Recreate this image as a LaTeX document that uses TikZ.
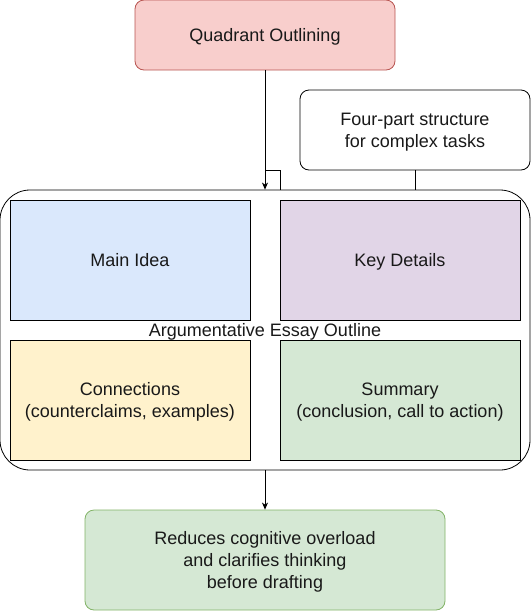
\documentclass[tikz,border=0pt]{standalone}
\usepackage{fontspec}
\setmainfont{Liberation Sans}
\usetikzlibrary{arrows.meta}
\definecolor{redfill}{HTML}{F8CECC}
\definecolor{redline}{HTML}{B85450}
\definecolor{bluefill}{HTML}{DAE8FC}
\definecolor{purplefill}{HTML}{E1D5E7}
\definecolor{yellowfill}{HTML}{FFF2CC}
\definecolor{greenfill}{HTML}{D5E8D4}
\definecolor{greenline}{HTML}{82B366}
\newcommand\lst{\rule[-4.3pt]{0pt}{21.6pt}}
\tikzset{
  txt/.style={font=\fontsize{18}{21.6}\selectfont, text=black!90},
  base/.style={draw, line width=0.8pt, align=center, inner sep=0pt, txt},
  roundbox/.style={base, rounded corners=9pt},
  quad/.style={base, draw=black},
  conn/.style={line width=0.8pt, draw=black},
  arr/.style={conn, -{Stealth[length=7pt,width=6pt,inset=2pt]}},
}
\begin{document}
\begin{tikzpicture}[x=1pt,y=-1pt]
\useasboundingbox (0,0) rectangle (531,611);
% outer container
\node[base, rounded corners=30pt, minimum width=530pt, minimum height=280pt, fill=white] (outer) at (265,330) {};
\node[txt, inner sep=0pt, align=center] (olabel) at (265,330) {\lst Argumentative Essay Outline};
% quadrants
\node[quad, fill=bluefill, minimum width=240pt, minimum height=120pt] (main) at (130,260) {\lst Main Idea};
\node[quad, fill=purplefill, minimum width=240pt, minimum height=120pt] (key) at (400,260) {\lst Key Details};
\node[quad, fill=yellowfill, minimum width=240pt, minimum height=120pt] (connx) at (130,400) {\lst Connections\\\lst (counterclaims, examples)};
\node[quad, fill=greenfill, minimum width=240pt, minimum height=120pt] (summ) at (400,400) {\lst Summary\\\lst (conclusion, call to action)};
% top box
\node[roundbox, fill=redfill, draw=redline, minimum width=260pt, minimum height=70pt] (top) at (265,35) {\lst Quadrant Outlining};
% note box
\node[roundbox, fill=white, minimum width=230pt, minimum height=80pt] (note) at (415,130) {\lst Four-part structure\\\lst for complex tasks};
% bottom box
\node[roundbox, fill=greenfill, draw=greenline, minimum width=360pt, minimum height=100pt] (bot) at (265,560) {\lst Reduces cognitive overload\\\lst and clarifies thinking\\\lst before drafting};
% connectors
\draw[arr] (top.south) -- (outer.north);
\coordinate (k1) at (265.5,170);
\coordinate (k2) at (280,170);
\coordinate (k3) at (280,190);
\draw[conn] (k1) -- (k2) -- (k3);
\draw[conn] (note.south) -- (note.south |- outer.north);
\draw[arr] (outer.south) -- (bot.north);
\end{tikzpicture}
\end{document}
